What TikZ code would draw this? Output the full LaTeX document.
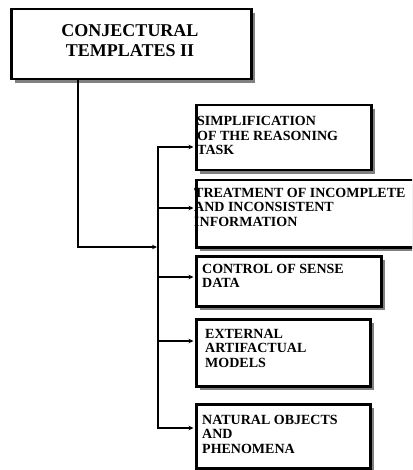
\documentclass[tikz,border=0pt]{standalone}
\usepackage{fontspec}
\setmainfont{Liberation Serif}
\usetikzlibrary{arrows.meta,shadows}

% multi-line text whose baseline is that of its first line
\newcommand{\leftlines}[1]{\begin{tabular}[t]{@{}l@{}}#1\end{tabular}}
\newcommand{\centerlines}[1]{\begin{tabular}[t]{@{}c@{}}#1\end{tabular}}

\tikzset{
  box/.style={draw=black, line width=2.5pt, fill=white, rectangle, inner sep=0pt,
    anchor=north west,
    drop shadow={shadow xshift=4pt, shadow yshift=-4pt, fill=black!50, opacity=1}},
  boxtext/.style={font=\fontsize{14}{14.5}\selectfont\bfseries,
    anchor=base west, inner sep=0pt},
  headtext/.style={font=\fontsize{18}{20}\selectfont\bfseries,
    anchor=base, inner sep=0pt},
  wire/.style={line width=2pt, line cap=rect},
  arr/.style={line width=2pt, -{Stealth[length=5pt,width=4.5pt]}},
}

\begin{document}
\begin{tikzpicture}[x=1pt,y=-1pt]
\useasboundingbox (0,0) rectangle (412,470);
\clip (0,0) rectangle (412,470);

% boxes
\node[box, minimum width=240pt, minimum height=70pt] (top) at (10,8) {};
\node[box, minimum width=175pt, minimum height=65pt] (b1) at (195,104) {};
\node[box, minimum width=235pt, minimum height=67pt] (b2) at (195,179) {};
\node[box, minimum width=185pt, minimum height=50pt] (b3) at (195,255) {};
\node[box, minimum width=174pt, minimum height=67pt] (b4) at (195,318) {};
\node[box, minimum width=174pt, minimum height=64pt] (b5) at (195,403) {};

% labels
\node[headtext] (tt) at (130,37) {\centerlines{CONJECTURAL\\TEMPLATES II}};
\node[boxtext] (t1) at (197,126) {\leftlines{SIMPLIFICATION\\OF THE REASONING\\TASK}};
\node[boxtext] (t2) at (194,197) {\leftlines{TREATMENT OF INCOMPLETE\\AND INCONSISTENT\\INFORMATION}};
\node[boxtext] (t3) at (202,273) {\leftlines{CONTROL OF SENSE\\DATA}};
\node[boxtext] (t4) at (205,338) {\leftlines{EXTERNAL\\ARTIFACTUAL\\MODELS}};
\node[boxtext] (t5) at (202,424) {\leftlines{NATURAL OBJECTS\\AND\\PHENOMENA}};

% connector from the header down to the distribution bar
\coordinate (m) at (78,247);
\coordinate (bt) at (158,147);
\coordinate (bb) at (158,428);
\draw[wire] (top.south -| m) -- (m);
\draw[arr] (m) -- ([xshift=-1pt]m -| bt);
\draw[wire] (bt) -- (bb);

% branches into the boxes
\coordinate (j1) at (158,147);
\coordinate (j2) at (158,208);
\coordinate (j3) at (158,277);
\coordinate (j4) at (158,341);
\coordinate (j5) at (158,428);
\foreach \j/\b in {j1/b1,j2/b2,j3/b3,j4/b4,j5/b5}
  \draw[arr, shorten >=1.5pt] (\j) -- (\j -| \b.west);
\end{tikzpicture}
\end{document}
